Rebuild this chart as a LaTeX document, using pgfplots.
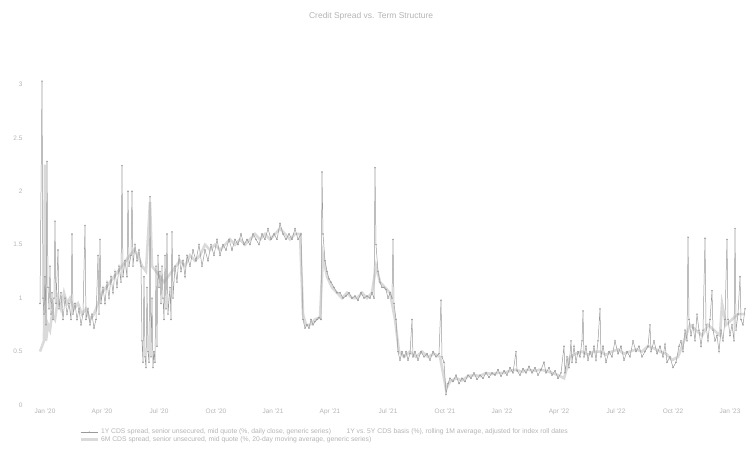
\documentclass[border=0pt]{standalone}
\usepackage{fontspec}
\setmainfont{Liberation Sans}
\usepackage{pgfplots}
\pgfplotsset{compat=1.18}

\definecolor{darkser}{HTML}{9A9A9A}
\definecolor{lightser}{HTML}{DADADA}
\definecolor{txt}{HTML}{B4B4B4}

\begin{document}
\begin{tikzpicture}
\useasboundingbox (0,0) rectangle (748bp,452bp);
\begin{axis}[
    at={(32bp,47bp)}, anchor=south west,
    scale only axis, width=714bp, height=342bp,
    xmin=32, xmax=746, ymin=0, ymax=3.2,
    axis line style={draw=none},
    major tick length=0pt,
    ytick={0,0.5,1,1.5,2,2.5,3},
    yticklabel style={xshift=-6bp},
    xtick={45,102,159,216,273,330,388,445,502,559,616,673,730},
    xticklabels={Jan '20,Apr '20,Jul '20,Oct '20,Jan '21,Apr '21,Jul '21,Oct '21,Jan '22,Apr '22,Jul '22,Oct '22,Jan '23},
    tick label style={font=\fontsize{6.5}{7}\selectfont, text=txt},
    /pgf/number format/assume math mode=true,
    title={Credit Spread vs. Term Structure},
    title style={font=\fontsize{8.5}{9}\selectfont, text=txt, anchor=center, at={(axis description cs:0.475,1.12)}},
    legend style={draw=none, fill=none, at={(0.062,-0.058)}, anchor=north west,
        font=\fontsize{6.8}{7}\selectfont, text=txt, row sep=-3pt,
        legend cell align=left},
]
\addplot[lightser, line width=2.6pt, forget plot] coordinates {
(40,0.5) (42,0.55) (44,0.6) (45,2.25) (46,0.6) (48,0.75) (50,0.7) (52,0.85) (55,0.8) (58,1.0)
(61,0.9) (64,1.05) (67,0.95) (70,1.0) (74,0.9) (78,0.95) (82,0.85) (86,0.9) (90,0.8) (94,0.85)
(98,0.95) (102,1.05) (106,1.1) (110,1.15) (114,1.2) (118,1.25) (122,1.3) (126,1.35) (130,1.4)
(134,1.45) (138,1.4) (142,1.3) (146,1.25) (150,1.9) (152,1.3) (156,1.25) (160,1.2) (164,1.15)
(168,1.2) (172,1.25) (176,1.3) (180,1.35) (185,1.3) (190,1.4) (195,1.35) (200,1.4) (205,1.5)
(210,1.45) (215,1.5) (220,1.45) (225,1.5) (230,1.55) (235,1.5) (240,1.55) (245,1.5) (250,1.55)
(255,1.6) (260,1.55) (265,1.6) (270,1.55) (275,1.6) (280,1.65) (285,1.6) (290,1.55) (295,1.6)
(300,1.6) (303,0.85) (306,0.75) (310,0.75) (315,0.8) (320,0.82) (323,1.4) (327,1.2) (332,1.1)
(337,1.05) (342,1.0) (347,1.05) (352,1.0) (357,1.0) (362,1.05) (367,1.0) (372,1.05) (376,1.3)
(380,1.15) (385,1.1) (390,1.05) (395,0.8) (399,0.5) (404,0.45) (410,0.5) (416,0.45) (422,0.5)
(428,0.45) (434,0.48) (440,0.45) (446,0.15) (450,0.22) (456,0.25) (462,0.23) (468,0.27)
(474,0.28) (480,0.27) (486,0.3) (492,0.29) (498,0.3) (504,0.3) (510,0.32) (516,0.33) (522,0.31)
(528,0.33) (534,0.32) (540,0.33) (546,0.32) (552,0.3) (558,0.28) (564,0.25) (570,0.45)
(576,0.48) (582,0.5) (588,0.47) (594,0.5) (600,0.5) (606,0.47) (612,0.5) (618,0.52) (624,0.48)
(630,0.5) (636,0.52) (642,0.5) (648,0.55) (654,0.53) (660,0.5) (666,0.48) (672,0.42) (678,0.45)
(684,0.6) (690,0.75) (696,0.7) (702,0.65) (708,0.75) (714,0.7) (720,0.65) (722,0.95) (726,0.75)
(732,0.8) (738,0.85) (745,0.85)
};
\addplot[darkser, line width=0.5pt, mark=*, mark size=0.45pt] coordinates {
(40,0.95) (42,3.03) (43,1.0) (44,0.85) (45,1.2) (46,0.75) (47,2.28) (48,1.1) (49,0.9) (50,1.3)
(51,0.85) (52,1.05) (53,0.8) (54,1.0) (55,1.72) (56,0.95) (58,1.45) (59,0.9) (61,1.05) (63,0.8)
(65,1.0) (67,0.85) (69,0.95) (71,0.8) (72,1.6) (73,0.85) (75,0.95) (77,0.8) (79,0.9) (81,0.75)
(83,0.85) (85,1.68) (86,0.8) (88,0.9) (90,0.75) (92,0.85) (94,0.72) (96,0.8) (98,1.4) (99,0.85)
(100,1.55) (101,0.95) (103,1.1) (105,0.95) (107,1.15) (109,1.0) (111,1.2) (113,1.05) (115,1.25)
(117,1.1) (119,1.3) (121,1.15) (122,2.24) (123,1.2) (125,1.35) (127,1.2) (128,2.0) (129,1.3)
(131,1.4) (132,2.0) (133,1.3) (135,1.5) (137,1.35) (139,1.45) (141,1.3) (142,0.6) (143,0.4)
(144,1.2) (145,0.45) (146,0.35) (147,1.1) (148,0.5) (149,0.4) (150,1.95) (151,0.45) (152,1.0)
(153,0.35) (154,0.5) (155,0.4) (156,1.3) (157,0.55) (158,1.4) (159,1.1) (160,1.25) (161,0.95)
(162,1.3) (163,1.0) (164,0.8) (165,1.4) (166,0.9) (167,1.6) (168,0.85) (170,1.1) (171,0.8)
(172,1.62) (173,1.0) (175,1.3) (177,1.15) (179,1.4) (181,1.25) (183,1.35) (185,1.2) (187,1.4)
(190,1.3) (193,1.45) (196,1.35) (199,1.5) (202,1.3) (205,1.45) (208,1.35) (211,1.5) (214,1.4)
(217,1.55) (220,1.4) (223,1.5) (226,1.45) (229,1.55) (232,1.45) (235,1.55) (238,1.5) (241,1.6)
(244,1.5) (247,1.55) (250,1.5) (253,1.6) (256,1.55) (259,1.5) (262,1.6) (265,1.55) (268,1.65)
(271,1.55) (274,1.6) (277,1.55) (280,1.7) (283,1.6) (286,1.55) (289,1.6) (292,1.55) (295,1.65)
(298,1.55) (301,1.6) (303,0.8) (305,0.72) (307,0.75) (309,0.72) (311,0.8) (313,0.75) (315,0.78)
(317,0.8) (319,0.82) (321,0.8) (322,2.18) (323,1.6) (325,1.35) (327,1.25) (329,1.18) (331,1.15)
(334,1.1) (337,1.05) (340,1.05) (343,1.0) (346,1.02) (349,1.05) (352,1.0) (355,1.02) (358,0.98)
(361,1.05) (364,1.0) (367,1.02) (370,1.0) (372,1.05) (374,1.0) (375,2.22) (376,1.5) (378,1.25)
(380,1.15) (382,1.1) (384,1.1) (386,1.08) (388,1.0) (390,1.05) (392,1.0) (393,1.55) (394,0.95)
(396,0.8) (398,0.5) (400,0.42) (402,0.5) (404,0.45) (406,0.5) (408,0.42) (410,0.48) (412,0.8)
(413,0.45) (415,0.5) (418,0.42) (421,0.5) (424,0.45) (427,0.48) (430,0.42) (433,0.5) (436,0.45)
(439,0.48) (441,0.98) (442,0.45) (444,0.4) (446,0.1) (448,0.2) (450,0.25) (453,0.22) (456,0.28)
(459,0.2) (462,0.25) (465,0.22) (468,0.28) (471,0.25) (474,0.3) (477,0.24) (480,0.28) (483,0.25)
(486,0.3) (489,0.26) (492,0.3) (495,0.28) (498,0.33) (501,0.27) (504,0.32) (507,0.28) (510,0.35)
(513,0.3) (516,0.5) (517,0.32) (520,0.28) (523,0.34) (526,0.3) (529,0.36) (532,0.3) (535,0.35)
(538,0.28) (541,0.33) (544,0.4) (546,0.3) (549,0.35) (552,0.28) (555,0.32) (558,0.25) (561,0.3)
(564,0.55) (565,0.3) (567,0.45) (569,0.35) (571,0.6) (572,0.4) (574,0.55) (576,0.4) (578,0.5)
(580,0.45) (582,0.6) (583,0.88) (584,0.45) (586,0.55) (588,0.42) (590,0.5) (592,0.45) (594,0.55)
(596,0.42) (598,0.6) (600,0.9) (601,0.45) (603,0.55) (606,0.4) (609,0.5) (612,0.45) (615,0.6)
(618,0.48) (621,0.55) (624,0.42) (627,0.5) (630,0.45) (633,0.6) (636,0.5) (639,0.55) (642,0.45)
(645,0.5) (648,0.55) (650,0.75) (651,0.5) (654,0.6) (657,0.48) (660,0.55) (663,0.45) (665,0.57)
(667,0.4) (670,0.45) (673,0.35) (676,0.4) (679,0.55) (681,0.6) (683,0.5) (685,0.7) (687,0.6)
(688,1.57) (689,0.8) (691,0.65) (693,0.75) (695,0.6) (697,0.85) (699,0.7) (701,0.55) (703,0.7)
(705,1.56) (706,0.75) (708,0.6) (710,0.8) (712,1.07) (713,0.7) (715,0.6) (717,0.65) (719,0.5)
(721,0.7) (723,0.6) (725,0.8) (727,1.55) (728,0.8) (730,0.65) (732,0.75) (734,0.6) (735,1.65)
(736,0.7) (738,0.85) (740,1.2) (741,0.8) (743,0.75) (745,0.9)
};
\addlegendentry{1Y CDS spread, senior unsecured, mid quote (\%, daily close, generic series) \qquad 1Y vs.\ 5Y CDS basis (\%), rolling 1M average, adjusted for index roll dates}
\addlegendimage{lightser, line width=2.6pt}
\addlegendentry{6M CDS spread, senior unsecured, mid quote (\%, 20-day moving average, generic series)}
\end{axis}
\end{tikzpicture}
\end{document}
